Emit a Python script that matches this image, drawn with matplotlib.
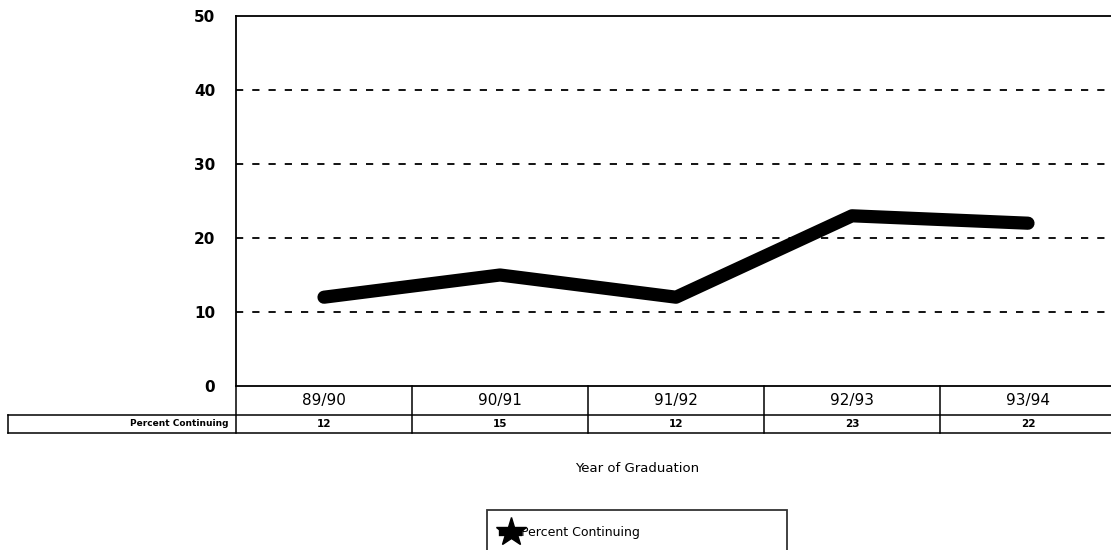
import matplotlib
matplotlib.use('Agg')
import matplotlib.pyplot as plt
from matplotlib.lines import Line2D
import matplotlib.transforms as mtransforms

# ── Data ───────────────────────────────────────────────────
years      = ['89/90', '90/91', '91/92', '92/93', '93/94']
continuing = [12, 15, 12, 23, 22]
series     = 'Percent Continuing'

# ── Figure ─────────────────────────────────────────────────
fig = plt.figure(figsize=(11.11, 5.5), dpi=100)
W, H = 1111, 550
ax = fig.add_axes([236 / W, 1 - 386 / H, 880 / W, 370 / H])

x = list(range(len(years)))
ax.plot(x, continuing, color='black', linewidth=9.5, solid_capstyle='round',
        solid_joinstyle='round')

ax.set_xlim(-0.5, len(years) - 0.5)
ax.set_ylim(0, 50)
ax.set_yticks(range(0, 51, 10))
ax.set_xticks([])
ax.tick_params(axis='y', length=0, pad=15, labelsize=11)
for t in ax.get_yticklabels():
    t.set_fontweight('semibold')
for yv in range(10, 50, 10):
    ax.axhline(yv, color='black', linewidth=1.3, linestyle=(0, (4, 5)))
for side in ['top', 'left', 'bottom']:
    ax.spines[side].set_linewidth(1.3)
ax.spines['right'].set_visible(False)

# ── Data table under the axis ─────────────────────────────
tr = mtransforms.blended_transform_factory(ax.transData, ax.transAxes)
y_head = -29 / 370   # bottom of header row
y_row  = -47 / 370   # bottom of value row
lw = 1.1
for i, (yr, val) in enumerate(zip(years, continuing)):
    ax.text(i, y_head / 2, yr, transform=tr, ha='center', va='center',
            fontsize=11)
    ax.text(i, (y_head + y_row) / 2, str(val), transform=tr, ha='center',
            va='center', fontsize=7.5, fontweight='bold')
    ax.plot([i + 0.5, i + 0.5], [0, y_row], transform=tr, color='black',
            linewidth=lw, clip_on=False)
ax.plot([-0.5, -0.5], [0, y_row], transform=tr, color='black',
        linewidth=lw, clip_on=False)

# horizontal rules and row-label cell (in axes coords)
x_lab = (8 - 236) / 880
ax.plot([x_lab, 1.0], [y_head, y_head], transform=ax.transAxes,
        color='black', linewidth=lw, clip_on=False)
ax.plot([x_lab, 1.0], [y_row, y_row], transform=ax.transAxes,
        color='black', linewidth=lw, clip_on=False)
ax.plot([x_lab, x_lab], [y_head, y_row], transform=ax.transAxes,
        color='black', linewidth=lw, clip_on=False)
ax.text(-8 / 880, (y_head + y_row) / 2, series, transform=ax.transAxes,
        ha='right', va='center', fontsize=6.5, fontweight='bold')

# ── Axis title and legend ─────────────────────────────────
fig.text(637 / W, 1 - 468 / H, 'Year of Graduation', ha='center',
         va='center', fontsize=9.5)

handle = Line2D([], [], color='black', linewidth=6, marker='*',
                markersize=22)
leg = fig.legend([handle], [series], loc='upper left',
                 bbox_to_anchor=(487 / W, 1 - 510 / H, 300 / W, 0),
                 mode='expand', frameon=True,
                 fancybox=False, fontsize=9, handlelength=1.2,
                 handletextpad=0.2, borderpad=1.3,
                 borderaxespad=0)
leg.get_frame().set_edgecolor('black')
leg.get_frame().set_linewidth(1.3)

fig.savefig('out.png', dpi=100)
